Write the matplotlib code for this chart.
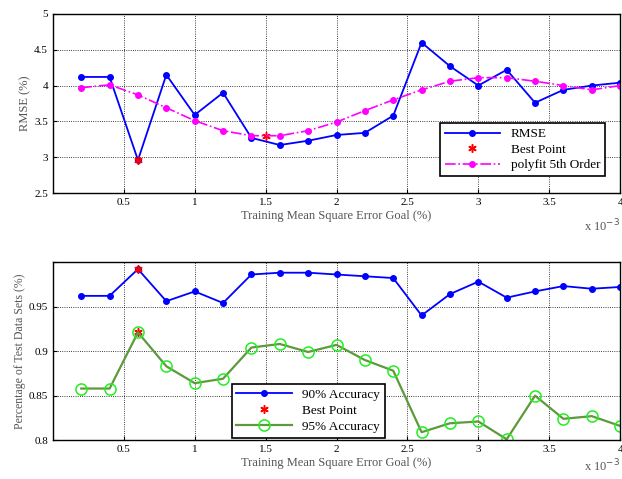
import numpy as np
import matplotlib
matplotlib.use("Agg")
import matplotlib.pyplot as plt

plt.rcParams['font.family'] = ['Liberation Serif', 'DejaVu Serif']

# training goal (x 10^-3)
goal = [0.2, 0.4, 0.6, 0.8, 1.0, 1.2, 1.4, 1.6, 1.8, 2.0,
        2.2, 2.4, 2.6, 2.8, 3.0, 3.2, 3.4, 3.6, 3.8, 4.0]

rmse = [4.12, 4.12, 2.96, 4.15, 3.59, 3.90, 3.27, 3.17, 3.23, 3.31,
        3.34, 3.58, 4.60, 4.27, 4.00, 4.22, 3.76, 3.94, 4.00, 4.04]
poly5 = [3.97, 4.01, 3.87, 3.69, 3.51, 3.37, 3.30, 3.30, 3.37, 3.49,
         3.65, 3.80, 3.94, 4.06, 4.11, 4.11, 4.06, 4.00, 3.94, 4.00]
best_rmse_x = [0.6, 1.5]
best_rmse_y = [2.96, 3.30]

acc90 = [0.962, 0.962, 0.992, 0.956, 0.967, 0.954, 0.986, 0.988, 0.988, 0.986,
         0.984, 0.982, 0.940, 0.964, 0.978, 0.960, 0.967, 0.973, 0.970, 0.972]
acc95 = [0.858, 0.858, 0.921, 0.883, 0.864, 0.869, 0.904, 0.908, 0.899, 0.907,
         0.890, 0.878, 0.809, 0.819, 0.821, 0.801, 0.850, 0.824, 0.827, 0.816]
best_acc_x = [0.6, 0.6]
best_acc_y = [0.992, 0.921]

xticks = [0.5, 1.0, 1.5, 2.0, 2.5, 3.0, 3.5, 4.0]
xticklabels = ['0.5', '1', '1.5', '2', '2.5', '3', '3.5', '4']

fig = plt.figure(figsize=(6.22, 4.79), dpi=100)
ax1 = fig.add_axes([0.085, 0.597, 0.912, 0.374])
ax2 = fig.add_axes([0.085, 0.081, 0.912, 0.372])

label_col = '#555555'
asterisk = (6, 2, 0)

def style(ax, exp_drop):
    ax.set_xlim(0, 4)
    ax.set_xticks(xticks)
    ax.set_xticklabels(xticklabels)
    ax.grid(True, color='black', linestyle=':', linewidth=0.6)
    ax.tick_params(direction='in', labelsize=8, length=3)
    for s in ax.spines.values():
        s.set_linewidth(1.0)
    ax.set_xlabel('Training Mean Square Error Goal (%)', fontsize=9,
                  color=label_col, labelpad=2)
    ax.annotate(r'x 10$^{-3}$', xy=(1.0, 0), xycoords='axes fraction',
                xytext=(0, -exp_drop), textcoords='offset pixels',
                fontsize=9, color=label_col, ha='right', va='center')

# RMSE panel
ax1.plot(goal, rmse, '-', color='#0000ff', marker='o', markersize=4,
         linewidth=1.3, label='RMSE')
ax1.plot(best_rmse_x, best_rmse_y, color='red', marker=asterisk, markersize=6,
         markeredgewidth=1.1, linestyle='none', label='Best Point')
ax1.plot(goal, poly5, '-.', color='#ff00ff', marker='o', markersize=4,
         linewidth=1.2, label='polyfit 5th Order')
ax1.set_ylim(2.5, 5)
ax1.set_yticks([2.5, 3.0, 3.5, 4.0, 4.5, 5.0])
ax1.set_yticklabels(['2.5', '3', '3.5', '4', '4.5', '5'])
ax1.set_ylabel('RMSE (%)', fontsize=9, color=label_col, labelpad=2)
style(ax1, 33)
leg1 = ax1.legend(loc='lower right', bbox_to_anchor=(0.973, 0.095), fontsize=9.5,
                  fancybox=False, edgecolor='black', framealpha=1,
                  borderpad=0.35, labelspacing=0.25, handlelength=4.2,
                  borderaxespad=0)
leg1.get_frame().set_linewidth(1.2)

# accuracy panel
ax2.plot(goal, acc90, '-', color='#0000ff', marker='o', markersize=4,
         linewidth=1.3, label='90% Accuracy')
ax2.plot(best_acc_x, best_acc_y, color='red', marker=asterisk, markersize=6,
         markeredgewidth=1.1, linestyle='none', label='Best Point')
ax2.plot(goal, acc95, '-', color='#5c9a3a', marker='o', markersize=8,
         markerfacecolor='none', markeredgecolor='#22ee22', markeredgewidth=1.1,
         linewidth=1.6, label='95% Accuracy')
ax2.set_ylim(0.8, 1.0)
ax2.set_yticks([0.8, 0.85, 0.9, 0.95, 1.0])
ax2.set_yticklabels(['0.8', '0.85', '0.9', '0.95', ''])
ax2.set_ylabel('Percentage of Test Data Sets (%)', fontsize=8.5,
               color=label_col, labelpad=2)
style(ax2, 26)
leg2 = ax2.legend(loc='lower left', bbox_to_anchor=(0.315, 0.015), fontsize=9.5,
                  fancybox=False, edgecolor='black', framealpha=1,
                  borderpad=0.35, labelspacing=0.3, handlelength=4.2,
                  borderaxespad=0)
leg2.get_frame().set_linewidth(1.2)

fig.savefig('out.png', dpi=100)
